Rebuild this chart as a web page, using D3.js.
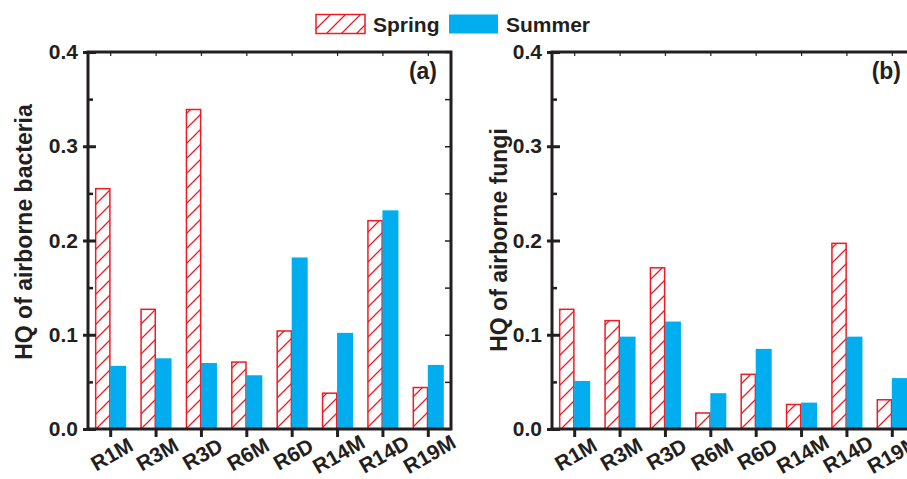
<!DOCTYPE html>
<meta charset="utf-8">
<script src="https://d3js.org/d3.v7.min.js"></script>
<style>
  body { margin: 0; background: #fff; }
  text { font-family: 'Liberation Sans', Arial, sans-serif; font-weight: bold; fill: #231f20; }
</style>
<body>
<div id="chart"></div>
<script>

var sites = ["R1M", "R3M", "R3D", "R6M", "R6D", "R14M", "R14D", "R19M"]
var bacteriaSpring = [0.255, 0.127, 0.339, 0.071, 0.104, 0.038, 0.221, 0.044]
var bacteriaSummer = [0.067, 0.075, 0.070, 0.057, 0.182, 0.102, 0.232, 0.068]
var fungiSpring = [0.127, 0.115, 0.171, 0.017, 0.058, 0.026, 0.197, 0.031]
var fungiSummer = [0.051, 0.098, 0.114, 0.038, 0.085, 0.028, 0.098, 0.054]
var yTicks = [0, 0.1, 0.2, 0.3, 0.4]
var yMinor = [0.05, 0.15, 0.25, 0.35]
var seriesNames = ["Spring", "Summer"]

var width = 907,
    height = 479,
    plotTop = 52,
    plotBottom = 429,
    red = "#ed1c24",
    blue = "#00aeef",
    ink = "#231f20"

var svg = d3.select("#chart")
  .append("svg")
    .attr("width", width)
    .attr("height", height)

// hatch for spring bars
var pat = svg.append("defs").append("pattern")
    .attr("id", "hatch")
    .attr("patternUnits", "userSpaceOnUse")
    .attr("width", 15)
    .attr("height", 15)
pat.append("rect").attr("width", 15).attr("height", 15).attr("fill", "#fff")
pat.append("path")
    .attr("d", "M0,15 L15,0 M-3,3 L3,-3 M12,18 L18,12")
    .attr("stroke", red)
    .attr("stroke-width", 1.3)

var y = d3.scaleLinear().domain([0, 0.4]).range([plotBottom, plotTop])

function panel(x0, x1, spring, summer, title, tag, titleX, titleY) {
  var x = d3.scaleBand().domain(sites).range([x0, x1])
  var bw = 15
  var g = svg.append("g")

  g.selectAll(".spring")
    .data(sites)
    .enter()
    .append("rect")
      .attr("x", function(d) { return x(d) + x.bandwidth() / 2 - bw })
      .attr("y", function(d, i) { return y(spring[i]) })
      .attr("width", bw - 0.8)
      .attr("height", function(d, i) { return y(0) - y(spring[i]) })
      .attr("fill", "url(#hatch)")
      .attr("stroke", red)
      .attr("stroke-width", 1.5)

  g.selectAll(".summer")
    .data(sites)
    .enter()
    .append("rect")
      .attr("x", function(d) { return x(d) + x.bandwidth() / 2 - 0.5 })
      .attr("y", function(d, i) { return y(summer[i]) })
      .attr("width", bw + 1)
      .attr("height", function(d, i) { return y(0) - y(summer[i]) })
      .attr("fill", blue)

  // left axis with labels
  var left = g.append("g")
    .attr("transform", "translate(" + x0 + ",0)")
    .call(d3.axisLeft(y).tickValues(yTicks).tickFormat(d3.format(".1f")).tickSize(5).tickPadding(5))
  left.select(".domain").remove()
  left.selectAll("line").attr("x2", -5).attr("x1", 8).attr("stroke", ink).attr("stroke-width", 3)
  left.selectAll("text").style("font-size", "21px").attr("fill", ink)

  var leftMinor = g.append("g")
    .attr("transform", "translate(" + x0 + ",0)")
    .call(d3.axisRight(y).tickValues(yMinor).tickFormat("").tickSize(5))
  leftMinor.select(".domain").remove()
  leftMinor.selectAll("line").attr("stroke", ink).attr("stroke-width", 2.5)

  // right axis, inward ticks
  var right = g.append("g")
    .attr("transform", "translate(" + x1 + ",0)")
    .call(d3.axisLeft(y).tickValues(yTicks.concat(yMinor)).tickFormat("").tickSize(6))
  right.select(".domain").remove()
  right.selectAll("line").attr("stroke", ink).attr("stroke-width", 1.5)

  // bottom axis
  var bot = g.append("g")
    .attr("transform", "translate(0," + plotBottom + ")")
    .call(d3.axisBottom(x).tickSize(8).tickFormat(""))
  bot.select(".domain").remove()
  bot.selectAll("line").attr("stroke", ink).attr("stroke-width", 3)

  // top axis, small inward ticks
  var topAx = g.append("g")
    .attr("transform", "translate(0," + plotTop + ")")
    .call(d3.axisBottom(x).tickSize(4).tickFormat(""))
  topAx.select(".domain").remove()
  topAx.selectAll("line").attr("stroke", ink).attr("stroke-width", 1.2)

  g.selectAll(".xlab")
    .data(sites)
    .enter()
    .append("text")
      .attr("transform", function(d) { return "translate(" + (x(d) + x.bandwidth() / 2 + 1) + ",454) rotate(-30)" })
      .attr("text-anchor", "middle")
      .attr("dy", "0.36em")
      .style("font-size", "21px")
      .text(function(d) { return d })

  // frame
  g.append("path")
    .attr("d", "M" + x0 + "," + plotTop + "H" + x1 + "V" + plotBottom + "H" + x0 + "Z")
    .attr("fill", "none")
    .attr("stroke", ink)
    .attr("stroke-width", 3)

  g.append("text")
    .attr("transform", "translate(" + titleX + "," + titleY + ") rotate(-90)")
    .attr("text-anchor", "middle")
    .style("font-size", "23px")
    .text(title)

  g.append("text")
    .attr("x", x1 - 14)
    .attr("y", 79)
    .attr("text-anchor", "end")
    .style("font-size", "23px")
    .text(tag)
}

panel(88, 451, bacteriaSpring, bacteriaSummer, "HQ of airborne bacteria", "(a)", 32, 232)
panel(552, 915, fungiSpring, fungiSummer, "HQ of airborne fungi", "(b)", 507, 240)

// legend
var legend = svg.append("g")
var legX = d3.scaleOrdinal().domain(seriesNames).range([316, 449])
legend.selectAll("rect")
  .data(seriesNames)
  .enter()
  .append("rect")
    .attr("x", function(d) { return legX(d) })
    .attr("y", 14.5)
    .attr("width", 49)
    .attr("height", 19)
    .attr("fill", function(d) { return d == "Spring" ? "url(#hatch)" : blue })
    .attr("stroke", function(d) { return d == "Spring" ? red : "none" })
    .attr("stroke-width", 1.5)
legend.selectAll("text")
  .data(seriesNames)
  .enter()
  .append("text")
    .attr("x", function(d) { return legX(d) + 57 })
    .attr("y", 32)
    .style("font-size", "21px")
    .text(function(d) { return d })

</script>
</body>
